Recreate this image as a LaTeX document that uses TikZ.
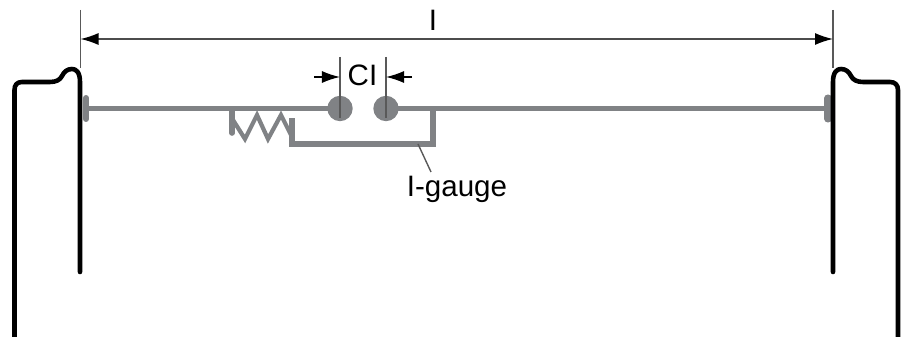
\documentclass[tikz,border=0pt]{standalone}
\usepackage{fontspec}
\setmainfont{Liberation Sans}
\usetikzlibrary{arrows.meta}
\definecolor{rodgray}{RGB}{128,130,133}
\tikzset{
	rim/.style={line width=1.3pt,black,line cap=round,line join=round},
	rod/.style={line width=1.6pt,rodgray},
	thin/.style={line width=.4pt,black!65},
	dim/.style={line width=.4pt,black!70,{Latex[length=.18cm,width=.12cm,black]}-{Latex[length=.18cm,width=.12cm,black]}},
	arr/.style={line width=.4pt,black,-{Latex[length=.18cm,width=.12cm]}},
	lbl/.style={font=\fontsize{8.4pt}{10pt}\selectfont,inner sep=0pt}
}
\begin{document}
\begin{tikzpicture}[x=.01cm,y=-.01cm]
	\useasboundingbox (0,0) rectangle (909,337);
	% end plates and bar
	\draw[rod] (86,108.5)--(330,108.5);
	\draw[rod] (386,108.5)--(828,108.5);
	\draw[rod,line cap=round,line width=1.7pt] (86,98)--(86,119);
	\draw[rod,line cap=round,line width=2pt] (828,98)--(828,119);
	\fill[rodgray] (340,108.5) circle (12.7);
	\fill[rodgray] (386,108.5) circle (12.7);
	% gauge arm
	\draw[rod,line join=miter] (433,108.5)--(433,144)--(292,144)--(292,118);
	\draw[rod,line cap=round] (232,110)--(232,133);
	\draw[rodgray,line width=1.2pt,line join=miter] (233,120)--(245,139)--(257,115)--(268,139)--(281,115)--(292,137);
	% rims
	\draw[rim] (80,272)--(80,82) .. controls (80,72) and (76,69) .. (72,69) .. controls (67,69) and (64,72) .. (62,76) .. controls (60,80) and (56,82) .. (50,82) -- (22,82) .. controls (17,82) and (14.5,85) .. (14.5,90) -- (14.5,337);
	\draw[rim] (833,272)--(833,82) .. controls (833,72) and (837,69) .. (841,69) .. controls (846,69) and (849,72) .. (851,76) .. controls (853,80) and (857,82) .. (863,82) -- (890,82) .. controls (895,82) and (898,85) .. (898,90) -- (898,337);
	% dimensions
	\coordinate (ltop) at (80.5,10);
	\coordinate (lbot) at (80.5,68);
	\coordinate (rtop) at (833,10);
	\coordinate (rbot) at (833,68);
	\draw[thin] (ltop)--(lbot);
	\draw[thin] (rtop)--(rbot);
	\draw[dim] (80.5,39)--(833,39);
	\node[lbl] (ldim) at (433,20.5){I};
	\draw[thin] (340,57)--(340,118);
	\draw[thin] (386,57)--(386,118);
	\draw[arr] (314,77)--(340,77);
	\draw[arr] (412,77)--(386,77);
	\node[lbl] (clear) at (362.5,75){CI};
	% leader
	\coordinate (arm) at (418,144);
	\coordinate (tail) at (431,172);
	\node[lbl,anchor=base] (gauge) at (457,197){I-gauge};
	\draw[thin] (arm)--(tail);
\end{tikzpicture}
\end{document}
